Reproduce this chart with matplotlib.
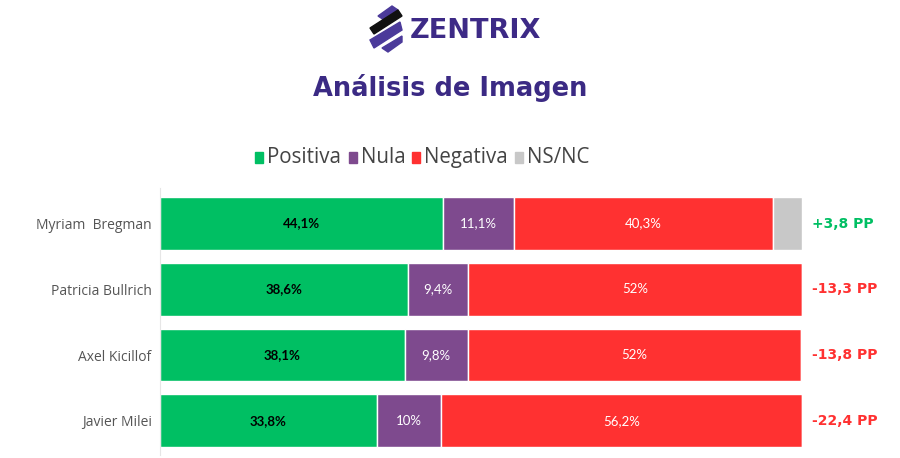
import matplotlib
matplotlib.use("Agg")
from matplotlib import pyplot as plt
from matplotlib.patches import Polygon, Rectangle

plt.rcParams['font.family'] = ['Lato', 'DejaVu Sans']

names = ['Myriam  Bregman', 'Patricia Bullrich', 'Axel Kicillof', 'Javier Milei']
positiva = [44.1, 38.6, 38.1, 33.8]
nula = [11.1, 9.4, 9.8, 10]
negativa = [40.3, 52, 52, 56.2]
nsnc = [4.5, 0, 0, 0]
pp_labels = ['+3,8 PP', '-13,3 PP', '-13,8 PP', '-22,4 PP']
pos_labels = ['44,1%', '38,6%', '38,1%', '33,8%']
nul_labels = ['11,1%', '9,4%', '9,8%', '10%']
neg_labels = ['40,3%', '52%', '52%', '56,2%']

c_pos = '#00BF63'
c_nul = '#7E4A8E'
c_neg = '#FF3131'
c_ns = '#C8C8C8'
c_title = '#3B2A84'

fig = plt.figure(figsize=(9, 4.58), dpi=100)
ax = fig.add_axes([160 / 900, 1 - 455 / 458, 642 / 900, 267 / 458])

y = list(range(len(names)))
left = [0] * len(names)
for vals, col, labs, tcol, bold in [
        (positiva, c_pos, pos_labels, 'black', True),
        (nula, c_nul, nul_labels, 'white', False),
        (negativa, c_neg, neg_labels, 'white', False),
        (nsnc, c_ns, None, None, False)]:
    ax.barh(y, vals, left=left, height=0.8, color=col, edgecolor='white', linewidth=1)
    if labs:
        for i, v in enumerate(vals):
            ax.text(left[i] + v / 2, i, labs[i], ha='center', va='center',
                    color=tcol, fontsize=9.5, fontweight='bold' if bold else 'normal')
    left = [l + v for l, v in zip(left, vals)]

ax.set_xlim(0, 100)
ax.set_ylim(3.52, -0.54)
ax.set_yticks(y)
ax.set_yticklabels(names, fontsize=10, color='#555555', family='Open Sans')
ax.tick_params(axis='y', length=0, pad=6)
ax.set_xticks([])
for s in ['top', 'right', 'bottom']:
    ax.spines[s].set_visible(False)
ax.spines['left'].set_color('#E6E6E6')

for i, lab in enumerate(pp_labels):
    col = c_pos if lab.startswith('+') else c_neg
    ax.text(101.5, i, lab, ha='left', va='center', color=col, fontsize=10,
            fontweight='bold', family='DejaVu Sans')

# titulo
fig.text(0.5, 1 - 88 / 458, 'Análisis de Imagen', ha='center', va='center',
         fontsize=18.5, fontweight='bold', color=c_title, family='DejaVu Sans')

# leyenda
items = [('Positiva', c_pos), ('Nula', c_nul), ('Negativa', c_neg), ('NS/NC', c_ns)]
xs = [255, 349, 412, 515]
for (lab, col), x in zip(items, xs):
    fig.patches.append(Rectangle(((x) / 900, 1 - 163 / 458), 8 / 900, 11 / 458,
                                 transform=fig.transFigure, color=col))
    fig.text((x + 12) / 900, 1 - 157 / 458, lab, ha='left', va='center',
             fontsize=14.8, color='#444444', family='Open Sans')

# logo
stripes = [
    [(378, 16), (392, 6), (398, 10), (384, 20)],
    [(370, 28), (398, 10), (402, 16), (374, 34)],
    [(370, 40), (400, 22), (402, 30), (374, 48)],
    [(382, 48), (402, 36), (402, 42), (388, 52)],
]
for k, pts in enumerate(stripes):
    col = '#111111' if k == 1 else '#4B3A9A'
    fig.patches.append(Polygon([(px / 900, 1 - py / 458) for px, py in pts],
                               closed=True, transform=fig.transFigure, color=col))
fig.text(410 / 900, 1 - 31 / 458, 'ZENTRIX', ha='left', va='center',
         fontsize=19.5, fontweight='bold', color='#3D2A86', family='DejaVu Sans')

fig.savefig('out.png', dpi=100, facecolor='white')
